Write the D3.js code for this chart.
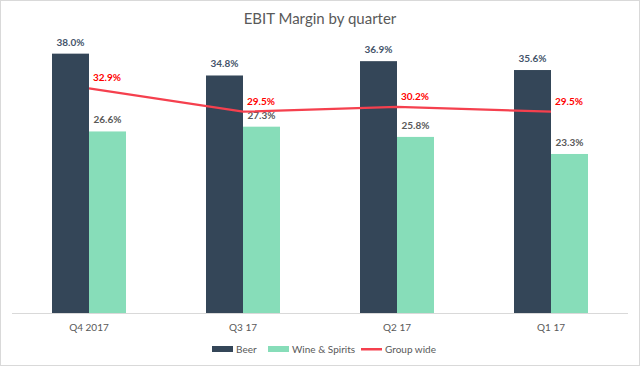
<!DOCTYPE html>
<html>
<head>
<meta charset="utf-8"/>
<script src="https://cdnjs.cloudflare.com/ajax/libs/d3/7.8.5/d3.min.js"></script>
<style>
  body { margin: 0; background: #fff; }
  text { font-family: Lato, "Open Sans", sans-serif; }
</style>
</head>
<body>
<script>
// data
const quarters = ['Q4 2017', 'Q3 17', 'Q2 17', 'Q1 17'];
const beer = [38.0, 34.8, 36.9, 35.6];
const wine = [26.6, 27.3, 25.8, 23.3];
const group = [32.9, 29.5, 30.2, 29.5];
const seriesNames = ['Beer', 'Wine & Spirits', 'Group wide'];
const colors = ['#344658', '#87ddb9', '#f5404e'];

const W = 640, H = 366;
const svg = d3.select('body').append('svg')
  .attr('width', W).attr('height', H);

// light frame round the chart
svg.append('rect')
  .attr('x', 0.5).attr('y', 0.5)
  .attr('width', W - 1).attr('height', H - 1)
  .attr('fill', '#fff').attr('stroke', '#d9d9d9');

const x = d3.scaleBand().domain(quarters).range([12, 628]);
const y = d3.scaleLinear().domain([0, 40]).range([313, 40]);
const barW = 37;

svg.append('text')
  .attr('x', 320).attr('y', 24)
  .attr('text-anchor', 'middle')
  .attr('font-size', 15).attr('fill', '#595959')
  .text('EBIT Margin by quarter');

// bars
const rows = quarters.map((q, i) => ({ q, beer: beer[i], wine: wine[i] }));
const g = svg.append('g');

g.selectAll('.beer').data(rows).enter().append('rect')
  .attr('x', d => x(d.q) + x.bandwidth() / 2 - barW)
  .attr('y', d => y(d.beer))
  .attr('width', barW)
  .attr('height', d => y(0) - y(d.beer))
  .attr('fill', colors[0]);

g.selectAll('.wine').data(rows).enter().append('rect')
  .attr('x', d => x(d.q) + x.bandwidth() / 2)
  .attr('y', d => y(d.wine))
  .attr('width', barW)
  .attr('height', d => y(0) - y(d.wine))
  .attr('fill', colors[1]);

g.selectAll('.lb').data(rows).enter().append('text')
  .attr('x', d => x(d.q) + x.bandwidth() / 2 - barW / 2)
  .attr('y', d => y(d.beer) - 8)
  .attr('text-anchor', 'middle')
  .attr('font-size', 10).attr('font-weight', 'bold').attr('fill', '#44546a')
  .text(d => d.beer.toFixed(1) + '%');

g.selectAll('.lw').data(rows).enter().append('text')
  .attr('x', d => x(d.q) + x.bandwidth() / 2 + barW / 2)
  .attr('y', d => y(d.wine) - 8)
  .attr('text-anchor', 'middle')
  .attr('font-size', 10).attr('font-weight', 'bold').attr('fill', '#595959')
  .text(d => d.wine.toFixed(1) + '%');

// axis baseline + category labels
svg.append('line')
  .attr('x1', 12).attr('x2', 628)
  .attr('y1', y(0) + 0.5).attr('y2', y(0) + 0.5)
  .attr('stroke', '#d9d9d9');

svg.selectAll('.cat').data(quarters).enter().append('text')
  .attr('x', d => x(d) + x.bandwidth() / 2)
  .attr('y', 331)
  .attr('text-anchor', 'middle')
  .attr('font-size', 10).attr('fill', '#595959')
  .text(d => d);

// group wide line
const line = d3.line()
  .x((d, i) => x(quarters[i]) + x.bandwidth() / 2)
  .y(d => y(d));

svg.append('path')
  .datum(group)
  .attr('d', line)
  .attr('fill', 'none')
  .attr('stroke', colors[2])
  .attr('stroke-width', 2.25);

svg.selectAll('.lg').data(group).enter().append('text')
  .attr('x', (d, i) => x(quarters[i]) + x.bandwidth() / 2 + 4)
  .attr('y', d => y(d) - 7)
  .attr('font-size', 10).attr('font-weight', 'bold').attr('fill', '#ff0000')
  .text(d => d.toFixed(1) + '%');

// legend
const legX = [212, 268, 361];
const leg = svg.selectAll('.leg').data(seriesNames).enter().append('g')
  .attr('transform', (d, i) => `translate(${legX[i]},349)`);

leg.append('rect')
  .attr('x', 0).attr('y', (d, i) => i == 2 ? -1 : -3)
  .attr('width', 21).attr('height', (d, i) => i == 2 ? 2.5 : 6)
  .attr('fill', (d, i) => colors[i]);

leg.append('text')
  .attr('x', 24).attr('y', 3.5)
  .attr('font-size', 10).attr('fill', '#595959')
  .text(d => d);
</script>
</body>
</html>
